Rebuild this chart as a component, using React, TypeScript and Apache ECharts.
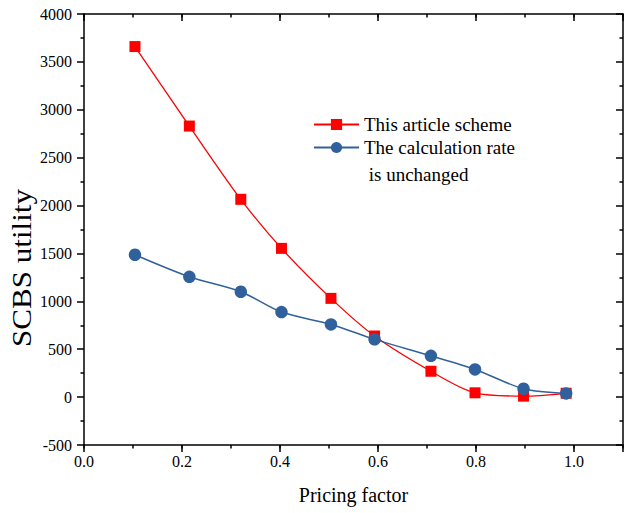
import React, { useEffect, useRef } from 'react';
import * as echarts from 'echarts';

const pricingFactor = [0.104, 0.215, 0.32, 0.403, 0.504, 0.593, 0.708, 0.798, 0.897, 0.984];
const schemeUtility = [3660, 2830, 2065, 1553, 1031, 638, 270, 45, 10, 40];
const unchangedUtility = [1486, 1256, 1100, 888, 759, 603, 431, 289, 87, 39];
const seriesNames = ['This article scheme', 'The calculation rate is unchanged'];
const legendLabels = ['This article scheme', '\nThe calculation rate\n is unchanged'];
const xTitle = 'Pricing factor';
const yTitle = 'SCBS utility';

const FONT = 'Liberation Serif, Times New Roman, serif';
const BLACK = '#000';
const RED = '#ff0000';
const BLUE = '#30619c';

const ls = () => ({ color: BLACK, width: 1.5 });
const axLine = (show: boolean) => ({ show, onZero: false, lineStyle: ls() });
const tick = (length: number, inside: boolean) => ({ show: true, inside, length, lineStyle: ls() });

function xAxisDef(position: string, interval: number, major: boolean, inside: boolean): any {
  return {
    type: 'value',
    min: 0,
    max: 1.1,
    interval,
    position,
    splitLine: { show: false },
    axisLine: axLine(major),
    axisTick: tick(major ? 7 : 3.5, inside),
    axisLabel: { show: false },
  };
}

function yAxisDef(position: string, inside: boolean): any {
  return {
    type: 'value',
    min: -500,
    max: 4000,
    interval: 500,
    position,
    splitLine: { show: false },
    axisLine: axLine(true),
    axisTick: tick(7, inside),
    minorTick: { show: true, splitNumber: 2, length: 3.5, lineStyle: ls() },
    axisLabel: { show: false },
  };
}

function build(): any {
  const xMain = xAxisDef('bottom', 0.2, true, false);
  xMain.axisLabel = {
    fontSize: 16,
    fontFamily: FONT,
    color: BLACK,
    formatter: (v: number) => (v > 1.05 ? '' : v.toFixed(1)),
  };
  xMain.name = xTitle;
  xMain.nameLocation = 'middle';
  xMain.nameGap = 40;
  xMain.nameTextStyle = { fontSize: 20, fontFamily: FONT, color: BLACK };

  const yMain = yAxisDef('left', false);
  yMain.axisLabel = {
    fontSize: 16,
    fontFamily: FONT,
    color: BLACK,
    formatter: (v: number) => String(v) + ' ',
  };

  return {
    animation: false,
    textStyle: { fontFamily: FONT },
    grid: { left: 84, right: 2, top: 14, bottom: 68, outerBoundsMode: 'none' },
    xAxis: [
      xMain,
      xAxisDef('top', 0.2, true, true),
      xAxisDef('bottom', 0.1, false, false),
      xAxisDef('top', 0.1, false, true),
    ],
    yAxis: [yMain, yAxisDef('right', true)],
    graphic: [
      {
        type: 'text',
        x: 22,
        y: 268,
        rotation: Math.PI / 2,
        scaleX: 1.15,
        style: {
          text: yTitle,
          font: `27px ${FONT}`,
          fill: BLACK,
          align: 'center',
          verticalAlign: 'middle',
        },
      },
    ],
    legend: [
      {
        data: [seriesNames[0]],
        left: 313,
        top: 115,
        padding: 0,
        itemWidth: 45,
        itemHeight: 14,
        selectedMode: false,
        formatter: () => legendLabels[0],
        textStyle: { fontFamily: FONT, fontSize: 19, color: BLACK },
      },
      {
        data: [seriesNames[1]],
        left: 313,
        top: 107,
        padding: 0,
        itemWidth: 45,
        itemHeight: 14,
        selectedMode: false,
        formatter: () => legendLabels[1],
        textStyle: { fontFamily: FONT, fontSize: 19, color: BLACK, lineHeight: 27 },
      },
    ],
    series: [
      {
        type: 'line',
        name: seriesNames[0],
        data: pricingFactor.map((x, i) => [x, schemeUtility[i]]),
        smooth: 0.3,
        symbol: 'rect',
        symbolSize: 11,
        lineStyle: { color: RED, width: 1.3 },
        itemStyle: { color: RED },
        xAxisIndex: 0,
        yAxisIndex: 0,
      },
      {
        type: 'line',
        name: seriesNames[1],
        data: pricingFactor.map((x, i) => [x, unchangedUtility[i]]),
        smooth: 0.3,
        symbol: 'circle',
        symbolSize: 12.5,
        lineStyle: { color: BLUE, width: 1.5 },
        itemStyle: { color: BLUE },
        xAxisIndex: 0,
        yAxisIndex: 0,
      },
    ],
  };
}

function Chart() {
  const ref = useRef<HTMLDivElement>(null);
  useEffect(() => {
    if (!ref.current) return;
    const chart = echarts.init(ref.current, null, { renderer: 'svg' });
    chart.setOption(build());
    return () => chart.dispose();
  }, []);
  return <div ref={ref} style={{ width: 625, height: 513, display: 'block' }} />;
}

export default function App() {
  return (
    <div style={{ position: 'fixed', left: 0, top: 0, width: 625, height: 513, background: '#fff' }}>
      <Chart />
    </div>
  );
}
